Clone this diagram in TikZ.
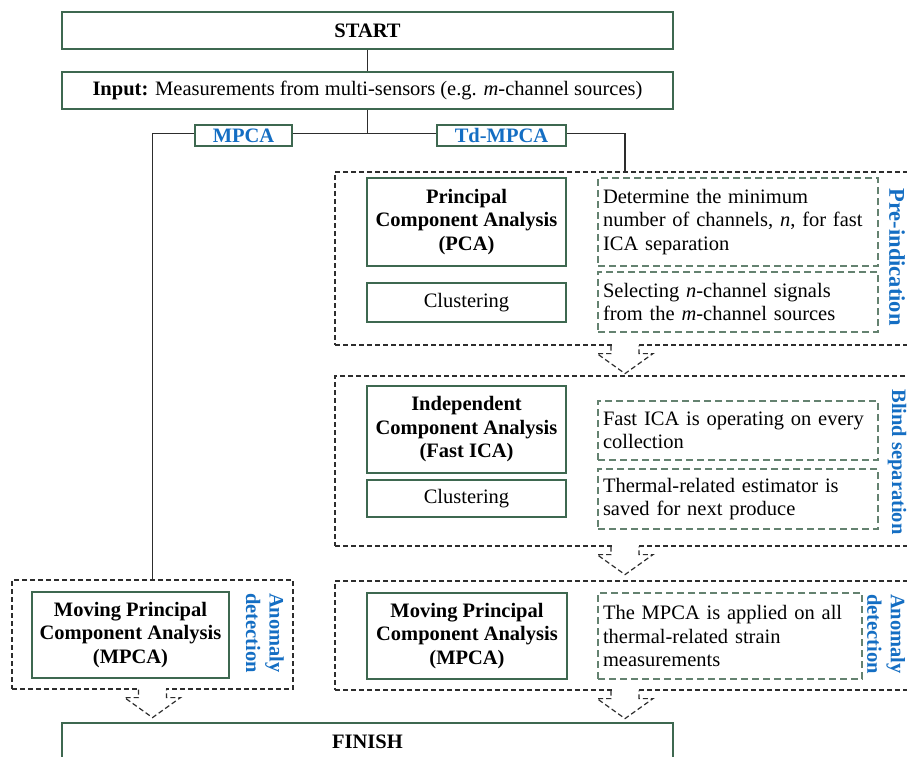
\documentclass[tikz,border=0pt]{standalone}
\usepackage{fontspec}
\setmainfont{Liberation Serif}
\usetikzlibrary{calc}

\definecolor{boxgreen}{RGB}{62,104,80}
\definecolor{notegreen}{RGB}{100,130,112}
\definecolor{tagblue}{RGB}{20,110,195}
\definecolor{linegray}{RGB}{45,45,45}

% hollow dashed arrow hanging below a stage frame
\newcommand{\hollowarrow}[1]{%
  \fill[white] ($(#1)+(-13.4,-1.2)$) rectangle ($(#1)+(13.4,1.2)$);
  \draw[stagebox] ($(#1)+(-14,0)$) -- ++(0,8) -- ++(-14,0) -- ($(#1)+(0,28)$)
    -- ($(#1)+(28,8)$) -- ++(-14,0) -- ++(0,-8);
}

\tikzset{
  txt/.style={font=\fontsize{20.5}{23.5}\selectfont, inner sep=0pt, align=center},
  solidbox/.style={txt, draw=boxgreen, line width=1.2pt, fill=white},
  headbox/.style={solidbox, font=\fontsize{20.5}{23.5}\selectfont\bfseries},
  notebox/.style={txt, draw=notegreen, line width=1.2pt, dash pattern=on 7pt off 4pt,
    align=left, inner xsep=5pt},
  stagebox/.style={draw=linegray, line width=1.2pt, dash pattern=on 5pt off 3pt},
  tag/.style={font=\fontsize{20.5}{23.5}\selectfont\bfseries, text=tagblue, inner sep=0pt, align=center},
  branchtag/.style={solidbox, font=\fontsize{20.5}{23.5}\selectfont\bfseries, text=tagblue},
  link/.style={draw=linegray, line width=1.2pt},
}

\begin{document}
\begin{tikzpicture}[x=1pt, y=-1pt]
  \useasboundingbox (0,0) rectangle (907,757);
  \clip (0,0) rectangle (907,757);
  \fill[white] (0,0) rectangle (907,757);

  % stage frames
  \node[stagebox, minimum width=580pt, minimum height=173pt, inner sep=0pt] (pre) at (625,258.5) {};
  \node[stagebox, minimum width=580pt, minimum height=170pt, inner sep=0pt] (blind) at (625,461) {};
  \node[stagebox, minimum width=580pt, minimum height=109pt, inner sep=0pt] (anomR) at (625,635.5) {};
  \node[stagebox, minimum width=281pt, minimum height=109pt, inner sep=0pt] (anomL) at (152.5,634.5) {};

  % hollow arrows between stages
  \hollowarrow{pre.south}
  \hollowarrow{blind.south}
  \hollowarrow{anomR.south}
  \hollowarrow{anomL.south}

  % start and input
  \node[headbox, minimum width=611pt, minimum height=37pt] (start) at (367.5,30.5) {START};
  \node[solidbox, minimum width=611pt, minimum height=37pt] (input) at (367.5,90.5)
    {\textbf{Input:} Measurements from multi-sensors (e.g. \textit{m}-channel sources)};
  \coordinate (split) at (367.5,133.5);

  \draw[link] (start) -- (input);
  \draw[link] (input.south) -- (split);
  \draw[link] (anomL.north) |- (split) -| (pre.north);

  \node[branchtag, minimum width=97pt, minimum height=21pt] (tagmpca) at (243.5,135.5) {MPCA};
  \node[branchtag, minimum width=129pt, minimum height=21pt] (tagtd) at (501.5,135.5) {Td-MPCA};

  % pre-indication stage
  \node[headbox, minimum width=199pt, minimum height=88pt] (pca) at (466.5,222)
    {Principal\\Component Analysis\\(PCA)};
  \node[solidbox, minimum width=199pt, minimum height=39pt] (clus1) at (466.5,302.5) {Clustering};
  \node[notebox, text width=270pt, minimum height=88pt] (n1) at (738,222)
    {Determine the minimum\\number of channels, \textit{n}, for fast\\ICA separation};
  \node[notebox, text width=270pt, minimum height=60pt] (n2) at (738,302)
    {Selecting \textit{n}-channel signals\\from the \textit{m}-channel sources};
  \node[tag, rotate=-90, font=\fontsize{22.5}{25}\selectfont\bfseries] (lpre) at (897,257) {Pre-indication};

  % blind separation stage
  \node[headbox, minimum width=199pt, minimum height=87pt] (ica) at (466.5,429.5)
    {Independent\\Component Analysis\\(Fast ICA)};
  \node[solidbox, minimum width=199pt, minimum height=37pt] (clus2) at (466.5,498.5) {Clustering};
  \node[notebox, text width=270pt, minimum height=59pt] (n3) at (738,430.5)
    {Fast ICA is operating on every\\collection};
  \node[notebox, text width=270pt, minimum height=60pt] (n4) at (738,499)
    {Thermal-related estimator is\\saved for next produce};
  \node[tag, rotate=-90] (lblind) at (897,462) {Blind separation};

  % anomaly detection, Td-MPCA branch
  \node[headbox, minimum width=200pt, minimum height=86pt] (mpcaR) at (467,636)
    {Moving Principal\\Component Analysis\\(MPCA)};
  \node[notebox, text width=254pt, minimum height=86pt] (n5) at (730,636)
    {The MPCA is applied on all\\thermal-related strain\\measurements};
  \node[tag, rotate=-90] (lanomR) at (886,634) {Anomaly\\detection};

  % anomaly detection, MPCA branch
  \node[headbox, minimum width=197pt, minimum height=86pt] (mpcaL) at (130.5,635)
    {Moving Principal\\Component Analysis\\(MPCA)};
  \node[tag, rotate=-90] (lanomL) at (265,633) {Anomaly\\detection};

  % finish
  \node[headbox, minimum width=611pt, minimum height=37pt] (finish) at (367.5,741.5) {FINISH};
\end{tikzpicture}
\end{document}
